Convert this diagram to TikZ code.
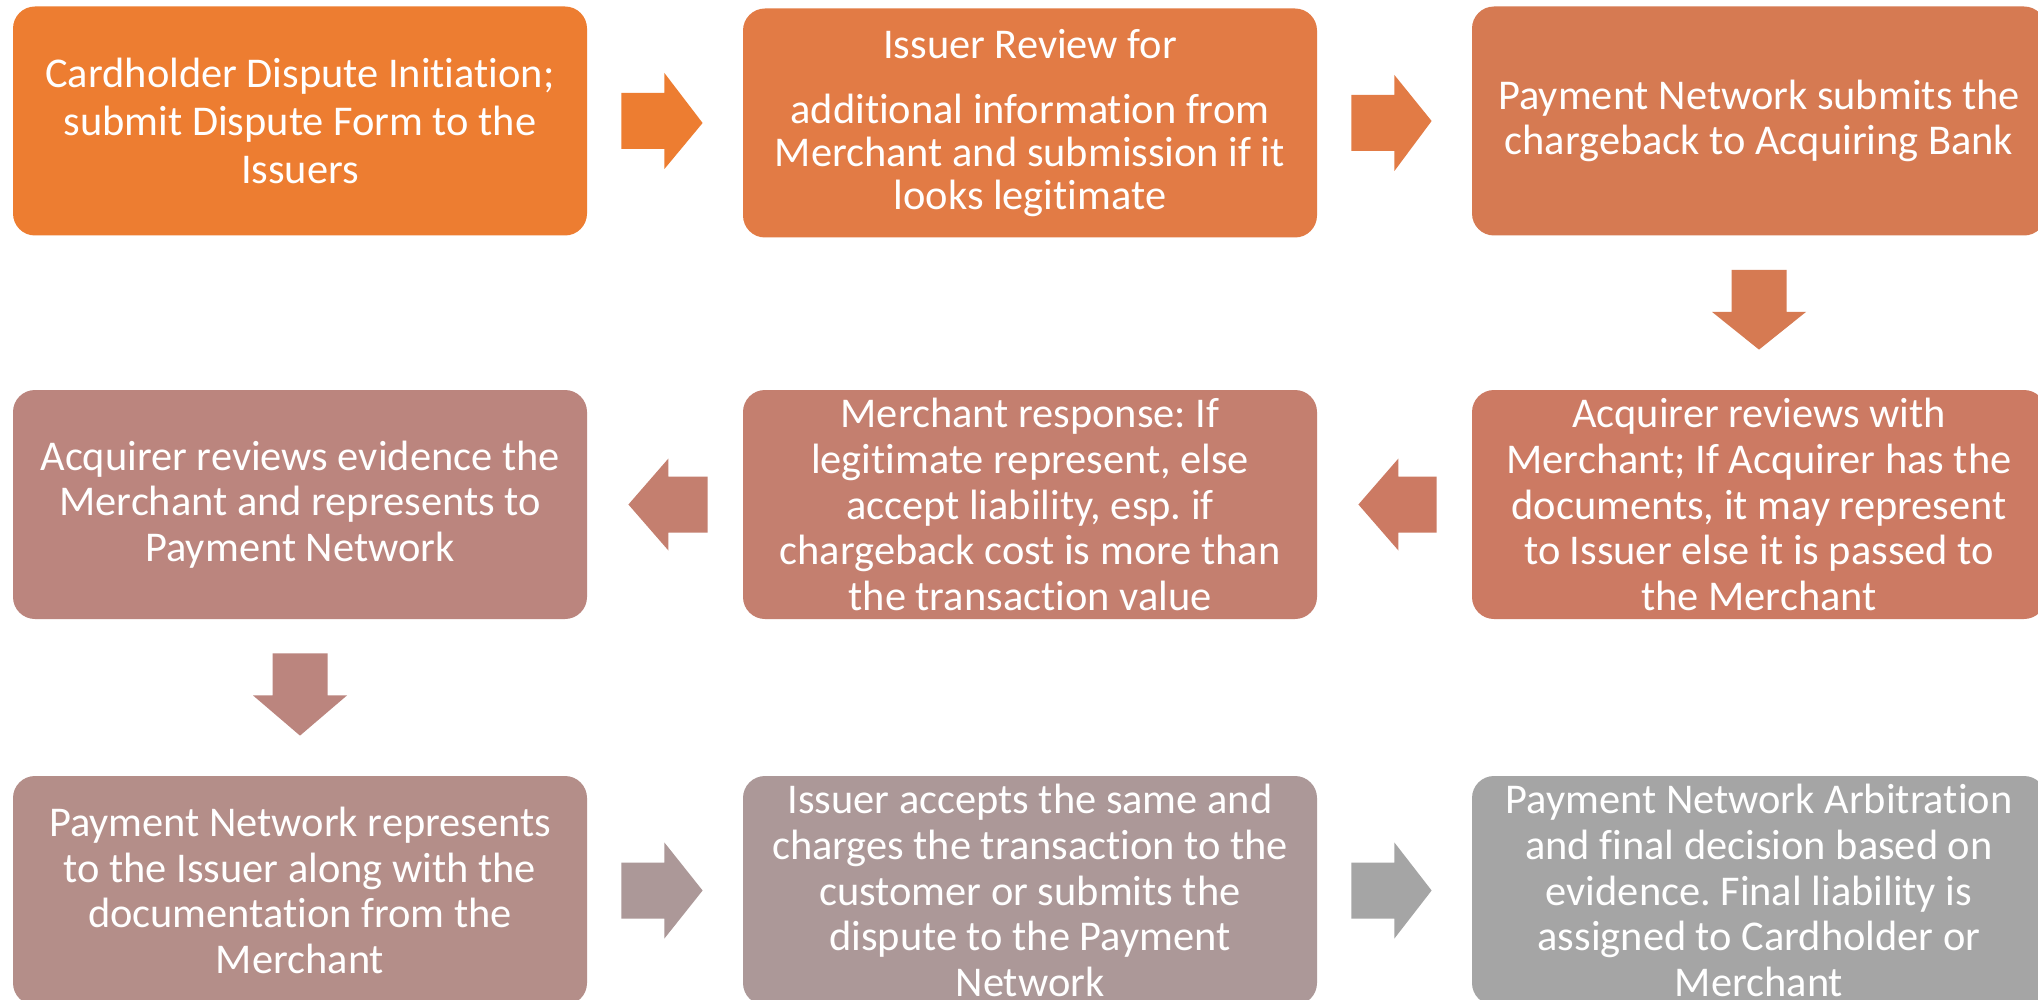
\documentclass[tikz,border=0pt]{standalone}
\usepackage{fontspec}
\setmainfont[Ligatures=NoCommon]{Carlito}
\usetikzlibrary{calc}
\definecolor{cA}{HTML}{ED7D31}
\definecolor{cB}{HTML}{E27B45}
\definecolor{cC}{HTML}{D67A52}
\definecolor{cD}{HTML}{CC7A63}
\definecolor{cE}{HTML}{C47F6F}
\definecolor{cF}{HTML}{BB857E}
\definecolor{cG}{HTML}{B48E89}
\definecolor{cH}{HTML}{AC9898}
\definecolor{cI}{HTML}{A5A5A5}
\tikzset{
  stepbox/.style={rectangle, rounded corners=11pt, minimum width=287pt, minimum height=114.5pt,
    inner sep=0pt, text=white, align=center, font=\fontsize{21.2}{22.8}\selectfont\frenchspacing},
}
% right arrow between #1 and #2
\newcommand{\rarr}[3]{%
  \fill[#3] ($(#1.east)+(34,-28)$) -- ($(#1.east)+(77,-28)$) -- ($(#1.east)+(77,-48)$)
    -- ($(#2.west)+(-40,0)$) -- ($(#1.east)+(77,48)$) -- ($(#1.east)+(77,28)$)
    -- ($(#1.east)+(34,28)$) -- cycle;}
% left arrow: from #1 (right box) to #2 (left box)
\newcommand{\larr}[3]{%
  \fill[#3] ($(#1.west)+(-35,-28)$) -- ($(#2.east)+(81,-28)$) -- ($(#2.east)+(81,-46)$)
    -- ($(#2.east)+(41,0)$) -- ($(#2.east)+(81,46)$) -- ($(#2.east)+(81,28)$)
    -- ($(#1.west)+(-35,28)$) -- cycle;}
% down arrow: from #1 (upper) to #2 (lower)
\newcommand{\darr}[3]{%
  \fill[#3] ($(#1.south)+(-27.5,34)$) -- ($(#1.south)+(-27.5,76)$) -- ($(#1.south)+(-47,76)$)
    -- ($(#2.north)+(0,-40)$) -- ($(#1.south)+(47,76)$) -- ($(#1.south)+(27.5,76)$)
    -- ($(#1.south)+(27.5,34)$) -- cycle;}
\begin{document}
\begin{tikzpicture}[x=0.5pt,y=-0.5pt]
\useasboundingbox[fill=white] (0,0) rectangle (2038,1000);
% row 1
\node[stepbox, fill=cA, font=\fontsize{21.2}{24}\selectfont] (b1) at (300,121) {Cardholder Dispute Initiation;\\ submit Dispute Form to the\\ Issuers};
\node[stepbox, fill=cB, font=\fontsize{21.2}{21.6}\selectfont] (b2) at (1030,123) {Issuer Review for\\[11pt] additional information from\\ Merchant and submission if it\\ looks legitimate};
\node[stepbox, fill=cC] (b3) at (1759,121) {Payment Network submits the\\ chargeback to Acquiring Bank};
% row 2
\node[stepbox, fill=cD] (b4) at (1759,504.5) {Acquirer reviews with\\ Merchant; If Acquirer has the\\ documents, it may represent\\ to Issuer else it is passed to\\ the Merchant};
\node[stepbox, fill=cE] (b5) at (1030,504.5) {Merchant response: If\\ legitimate represent, else\\ accept liability, esp. if\\ chargeback cost is more than\\ the transaction value};
\node[stepbox, fill=cF] (b6) at (300,504.5) {Acquirer reviews evidence the\\ Merchant and represents to\\ Payment Network};
% row 3
\node[stepbox, fill=cG] (b7) at (300,890.5) {Payment Network represents\\ to the Issuer along with the\\ documentation from the\\ Merchant};
\node[stepbox, fill=cH] (b8) at (1030,890.5) {Issuer accepts the same and\\ charges the transaction to the\\ customer or submits the\\ dispute to the Payment\\ Network};
\node[stepbox, fill=cI] (b9) at (1759,890.5) {Payment Network Arbitration\\ and final decision based on\\ evidence. Final liability is\\ assigned to Cardholder or\\ Merchant};
% connectors
\rarr{b1}{b2}{cA}
\rarr{b2}{b3}{cB}
\darr{b3}{b4}{cC}
\larr{b4}{b5}{cD}
\larr{b5}{b6}{cE}
\darr{b6}{b7}{cF}
\rarr{b7}{b8}{cH}
\rarr{b8}{b9}{cI}
\end{tikzpicture}
\end{document}
